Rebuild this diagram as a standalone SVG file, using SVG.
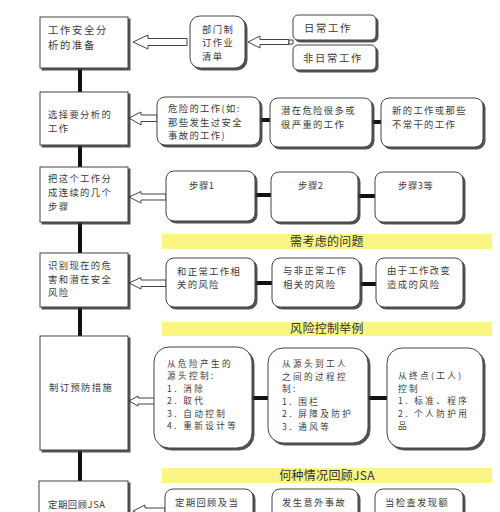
<svg xmlns="http://www.w3.org/2000/svg" width="500" height="512" viewBox="0 0 500 512">
<defs>
<filter id="sh" x="-10%" y="-10%" width="130%" height="130%">
<feDropShadow dx="2" dy="2" stdDeviation="0.6" flood-color="#333" flood-opacity="0.85"/>
</filter>
</defs>
<style>
.box{fill:#fff;stroke:#444;stroke-width:1;filter:url(#sh)}
.t{font-family:"Noto Sans CJK SC","Liberation Sans",sans-serif;fill:#3a3a3a;font-size:9.3px;letter-spacing:1.4px}
.tl{font-size:10.3px;letter-spacing:1.7px}
.ts{font-size:8.6px;letter-spacing:2.4px}
.tn{letter-spacing:0.6px}
.ty{font-family:"Noto Sans CJK SC","Liberation Sans",sans-serif;fill:#333;font-size:12px;letter-spacing:0.3px;text-anchor:middle}
.band{fill:#fbf586}
.conn{stroke:#111;stroke-width:4;fill:none}
.arr{fill:#fff;stroke:#444;stroke-width:1}
</style>
<rect width="500" height="512" fill="#fff"/>

<g id="bands">
<rect class="band" x="162" y="234" width="330" height="15"/>
<text class="ty" x="327" y="246">需考虑的问题</text>
<rect class="band" x="162" y="322" width="330" height="14"/>
<text class="ty" x="327" y="333">风险控制举例</text>
<rect class="band" x="162" y="468" width="330" height="15"/>
<text class="ty" x="327" y="480">何种情况回顾JSA</text>
</g>

<g id="connectors">
<line class="conn" x1="80" y1="68" x2="80" y2="92"/>
<line class="conn" x1="80" y1="145" x2="80" y2="167"/>
<line class="conn" x1="80" y1="222" x2="80" y2="253"/>
<line class="conn" x1="80" y1="307" x2="80" y2="336"/>
<line class="conn" x1="80" y1="450" x2="80" y2="481"/>
<line class="conn" x1="260" y1="120" x2="270" y2="120"/>
<line class="conn" x1="372" y1="122" x2="381" y2="122"/>
<line class="conn" x1="255" y1="195" x2="271" y2="195"/>
<line class="conn" x1="358" y1="196" x2="375" y2="196"/>
<line class="conn" x1="255" y1="283" x2="272" y2="283"/>
<line class="conn" x1="360" y1="284" x2="376" y2="284"/>
<line class="conn" x1="252" y1="398" x2="268" y2="398"/>
<line class="conn" x1="368" y1="398" x2="387" y2="398"/>
<path class="arr" d="M133,42 L148,35 L148,38.5 L187,38.5 L187,45.5 L148,45.5 L148,49 Z"/>
<path class="arr" d="M248,42 L260,36 L260,39.5 L289,39.5 L289,44.5 L260,44.5 L260,48 Z"/>
<rect x="289" y="40" width="4" height="4" fill="#fff" stroke="#444" stroke-width="1"/>
<path class="arr" d="M129,118 L141,112 L141,115 L157,115 L157,121.5 L141,121.5 L141,125 Z"/>
<path class="arr" d="M129,197 L141,191.5 L141,194 L166,194 L166,200 L141,200 L141,203 Z"/>
<path class="arr" d="M129,283 L141,277.5 L141,280 L166,280 L166,286.5 L141,286.5 L141,289 Z"/>
<path class="arr" d="M129,401 L138,396 L138,398 L155,398 L155,404 L138,404 L138,406 Z"/>
<path class="arr" d="M133,511 L145,505 L145,508 L165,508 L165,514 L145,514 L145,517 Z"/>
</g>

<g id="box1">
<rect class="box" x="40" y="17" width="88" height="51"/>
<text class="t tl" x="48" y="34">工作安全分</text>
<text class="t tl" x="48" y="49">析的准备</text>
</g>
<g id="box2">
<rect class="box" x="40" y="92" width="88" height="53"/>
<text class="t" x="48" y="118">选择要分析的</text>
<text class="t" x="48" y="132">工作</text>
</g>
<g id="box3">
<rect class="box" x="40" y="167" width="88" height="55"/>
<text class="t" x="48" y="182">把这个工作分</text>
<text class="t" x="48" y="196">成连续的几个</text>
<text class="t" x="48" y="210">步骤</text>
</g>
<g id="box4">
<rect class="box" x="40" y="253" width="88" height="54"/>
<text class="t" x="48" y="269">识别现在的危</text>
<text class="t" x="48" y="282.5">害和潜在安全</text>
<text class="t" x="48" y="296">风险</text>
</g>
<g id="box5">
<rect class="box" x="40" y="336" width="88" height="114"/>
<text class="t" x="49" y="391">制订预防措施</text>
</g>
<g id="box6">
<rect class="box" x="39" y="481" width="89" height="40"/>
<text class="t tn" x="48" y="508">定期回顾JSA</text>
</g>

<g id="dept">
<rect class="box" x="190" y="16" width="55" height="52" rx="10"/>
<text class="t" x="202" y="32.5">部门制</text>
<text class="t" x="202" y="46">订作业</text>
<text class="t" x="202" y="59.5">清单</text>
</g>
<g id="routine">
<rect class="box" x="293" y="15" width="83" height="25" rx="5"/>
<text class="t tl" x="304" y="31.5">日常工作</text>
</g>
<g id="nonroutine">
<rect class="box" x="293" y="45" width="83" height="25" rx="5"/>
<text class="t tl" x="303" y="61.5">非日常工作</text>
</g>

<g id="r2n1">
<rect class="box" x="157" y="97" width="103" height="48" rx="8"/>
<text class="t" x="168" y="112">危险的工作(如:</text>
<text class="t" x="168" y="125.5">那些发生过安全</text>
<text class="t" x="168" y="139">事故的工作)</text>
</g>
<g id="r2n2">
<rect class="box" x="270" y="98" width="102" height="49" rx="8"/>
<text class="t" x="281" y="113.5">潜在危险很多或</text>
<text class="t" x="281" y="127.5">很严重的工作</text>
</g>
<g id="r2n3">
<rect class="box" x="381" y="98" width="102" height="49" rx="8"/>
<text class="t" x="392" y="113.5">新的工作或那些</text>
<text class="t" x="392" y="127.5">不常干的工作</text>
</g>

<g id="step1">
<rect class="box" x="166" y="171" width="89" height="50" rx="8"/>
<text class="t tn" x="189" y="189">步骤1</text>
</g>
<g id="step2">
<rect class="box" x="271" y="172" width="87" height="50" rx="8"/>
<text class="t tn" x="298" y="189">步骤2</text>
</g>
<g id="step3">
<rect class="box" x="375" y="172" width="88" height="50" rx="8"/>
<text class="t tn" x="398" y="189">步骤3等</text>
</g>

<g id="r4n1">
<rect class="box" x="166" y="258" width="89" height="49" rx="8"/>
<text class="t" x="177" y="274.5">和正常工作相</text>
<text class="t" x="177" y="288">关的风险</text>
</g>
<g id="r4n2">
<rect class="box" x="272" y="258" width="88" height="49" rx="8"/>
<text class="t" x="283" y="274">与非正常工作</text>
<text class="t" x="283" y="288">相关的风险</text>
</g>
<g id="r4n3">
<rect class="box" x="376" y="258" width="87" height="49" rx="8"/>
<text class="t" x="387" y="274">由于工作改变</text>
<text class="t" x="387" y="288">造成的风险</text>
</g>

<g id="r5n1">
<rect class="box" x="154" y="347" width="98" height="101" rx="15"/>
<text class="t ts" x="167" y="366.5">从危险产生的</text>
<text class="t ts" x="167" y="379">源头控制:</text>
<text class="t ts" x="167" y="391.5">1. 消除</text>
<text class="t ts" x="167" y="404">2. 取代</text>
<text class="t ts" x="167" y="416.5">3. 自动控制</text>
<text class="t ts" x="167" y="429">4. 重新设计等</text>
</g>
<g id="r5n2">
<rect class="box" x="268" y="348" width="100" height="95" rx="15"/>
<text class="t ts" x="282" y="367">从源头到工人</text>
<text class="t ts" x="282" y="379.5">之间的过程控</text>
<text class="t ts" x="282" y="392">制:</text>
<text class="t ts" x="282" y="404.5">1. 围栏</text>
<text class="t ts" x="282" y="417">2. 屏障及防护</text>
<text class="t ts" x="282" y="429.5">3. 通风等</text>
</g>
<g id="r5n3">
<rect class="box" x="387" y="348" width="96" height="100" rx="15"/>
<text class="t ts" x="398" y="379">从终点(工人)</text>
<text class="t ts" x="398" y="391.5">控制</text>
<text class="t ts" x="398" y="404">1. 标准、程序</text>
<text class="t ts" x="398" y="416.5">2. 个人防护用</text>
<text class="t ts" x="398" y="429">品</text>
</g>

<g id="r6n1">
<rect class="box" x="165" y="489" width="88" height="40" rx="8"/>
<text class="t" x="175" y="506">定期回顾及当</text>
</g>
<g id="r6n2">
<rect class="box" x="272" y="489" width="86" height="40" rx="8"/>
<text class="t" x="282" y="506">发生意外事故</text>
</g>
<g id="r6n3">
<rect class="box" x="375" y="489" width="88" height="40" rx="8"/>
<text class="t" x="385" y="506">当检查发现额</text>
</g>
</svg>
